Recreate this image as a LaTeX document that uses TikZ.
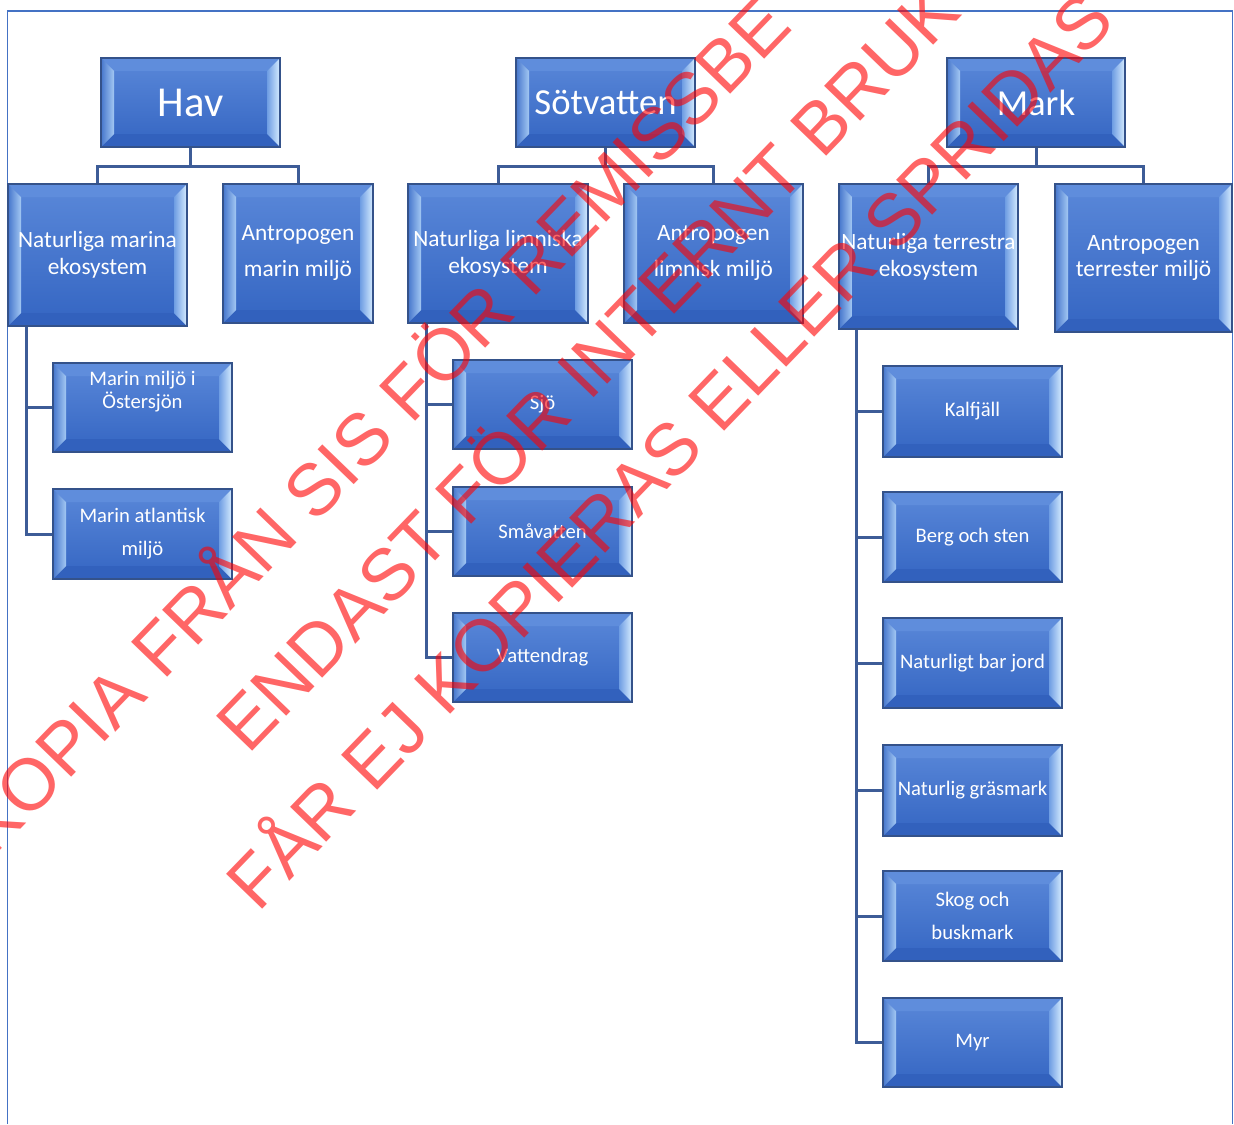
\documentclass[tikz,border=0pt]{standalone}
\usepackage{fontspec}
\newfontfamily\carl{Carlito}
\newfontfamily\wmf{Liberation Sans}
\usetikzlibrary{calc,backgrounds}
\definecolor{bdr}{HTML}{34528A}
\definecolor{bxtop}{HTML}{5A88D9}
\definecolor{bxbot}{HTML}{3465C2}
\definecolor{bvtop}{HTML}{5F8DDC}
\definecolor{bvbot}{HTML}{3261BD}
\definecolor{bvlo}{HTML}{4676CC}
\definecolor{bvli}{HTML}{A3C8F3}
\definecolor{bvri}{HTML}{6E9DE3}
\definecolor{bvro}{HTML}{D6ECFF}
\definecolor{conn}{HTML}{3D5C97}
\definecolor{frm}{HTML}{4472C4}
\tikzset{
  bx/.style={rectangle, draw=bdr, line width=0.9pt, inner sep=1pt, text=white, align=center,
    top color=bxtop, bottom color=bxbot,
    path picture={
      \coordinate (bNW) at (path picture bounding box.north west);
      \coordinate (bNE) at (path picture bounding box.north east);
      \coordinate (bSW) at (path picture bounding box.south west);
      \coordinate (bSE) at (path picture bounding box.south east);
      \fill[bvtop] (bNW) -- (bNE) -- ($(bNE)+(-9.75pt,-9.75pt)$) -- ($(bNW)+(9.75pt,-9.75pt)$) -- cycle;
      \fill[bvbot] (bSW) -- (bSE) -- ($(bSE)+(-9.75pt,9.75pt)$) -- ($(bSW)+(9.75pt,9.75pt)$) -- cycle;
      \shade[left color=bvlo, right color=bvli] (bNW) -- ($(bNW)+(9.75pt,-9.75pt)$) -- ($(bSW)+(9.75pt,9.75pt)$) -- (bSW) -- cycle;
      \shade[left color=bvri, right color=bvro] (bNE) -- ($(bNE)+(-9.75pt,-9.75pt)$) -- ($(bSE)+(-9.75pt,9.75pt)$) -- (bSE) -- cycle;
    }},
  txt/.style={text=white, align=center, inner sep=0pt},
  lhav/.style={font=\carl\fontsize{32}{38}\selectfont},
  lone/.style={font=\carl\fontsize{27.5}{33}\selectfont},
  ltwo/.style={font=\carl\fontsize{17.5}{20.25}\selectfont},
  ltwow/.style={font=\carl\fontsize{17.5}{27}\selectfont},
  ltwot/.style={font=\carl\fontsize{17.5}{19.5}\selectfont},
  lthree/.style={font=\carl\fontsize{15.5}{17.25}\selectfont},
  lthreew/.style={font=\carl\fontsize{15.5}{24.75}\selectfont},
  cn/.style={draw=conn, line width=2.25pt},
  wm/.style={font=\wmf\fontsize{54.75}{60}\selectfont, text=red, text opacity=0.6, inner sep=0pt, rotate=46},
}
\newcommand\mkbox[7][]{\node[bx,#1,minimum width={(#5-#3)*0.75pt},minimum height={(#6-#4)*0.75pt}] (#2) at ({(#3+#5)/2},{(#4+#6)/2}) {#7};}
\begin{document}
\begin{tikzpicture}[x=0.75pt,y=-0.75pt]
\useasboundingbox (0,0) rectangle (1234,1124);
\clip (0,0) rectangle (1234,1124);
% coordinates for buses
\coordinate (havbus) at (190.5,166);
\coordinate (sotbus) at (605.5,166);
\coordinate (markbus) at (1036,166);
\coordinate (nmv) at (26,326);
\coordinate (nlv) at (426,323);
\coordinate (ntv) at (856,329);
% boxes
\mkbox[lhav]{hav}{101}{58}{280}{147}{Hav}
\mkbox[lone]{sot}{516}{58}{695}{147}{Sötvatten}
\mkbox[lone]{mark}{947}{58}{1125}{147}{Mark}
\mkbox[ltwo]{nm}{8}{184}{187}{326}{Naturliga marina\\ekosystem}
\mkbox[ltwow]{am}{223}{184}{373}{323}{Antropogen\\marin miljö}
\mkbox[ltwo]{nl}{408}{184}{588}{323}{Naturliga limniska\\ekosystem}
\mkbox[ltwow]{al}{624}{184}{803}{323}{Antropogen\\limnisk miljö}
\mkbox[ltwo]{nt}{839}{184}{1018}{329}{Naturliga terrestra\\ekosystem}
\mkbox[ltwot]{at}{1055}{184}{1232}{332}{Antropogen\\terrester miljö}
\mkbox[lthree]{ost}{53}{363}{232}{452}{}
\node[txt,lthree] (osttext) at (142.5,392) {Marin miljö i\\Östersjön};
\mkbox[lthreew]{atl}{53}{489}{232}{579}{Marin atlantisk\\miljö}
\mkbox[lthree]{sjo}{453}{360}{632}{449}{Sjö}
\mkbox[lthree]{sma}{453}{487}{632}{576}{Småvatten}
\mkbox[lthree]{vat}{453}{613}{632}{702}{Vattendrag}
\mkbox[lthree]{kal}{883}{366}{1062}{457}{Kalfjäll}
\mkbox[lthree]{berg}{883}{492}{1062}{582}{Berg och sten}
\mkbox[lthree]{bar}{883}{618}{1062}{708}{Naturligt bar jord}
\mkbox[lthree]{gras}{883}{745}{1062}{836}{Naturlig gräsmark}
\mkbox[lthreew]{skog}{883}{871}{1062}{961}{Skog och\\buskmark}
\mkbox[lthree]{myr}{883}{998}{1062}{1087}{Myr}
% frame and connectors behind boxes
\begin{scope}[on background layer]
\fill[white] (0,0) rectangle (1234,1124);
\draw[frm, line width=1.1pt] (7.5,1124) -- (7.5,11) -- (1232.5,11) -- (1232.5,1124);
\draw[cn] (hav.south) -- (havbus) -| (nm.north);
\draw[cn] (havbus) -| (am.north);
\draw[cn] (sot.south) -- (sotbus) -| (nl.north);
\draw[cn] (sotbus) -| (al.north);
\draw[cn] (mark.south) -- (markbus) -| (nt.north);
\draw[cn] (markbus) -| (at.north);
\draw[cn] (nmv) |- (ost.west);
\draw[cn] (nmv) |- (atl.west);
\draw[cn] (nlv) |- (sjo.west);
\draw[cn] (nlv) |- (sma.west);
\draw[cn] (nlv) |- (vat.west);
\draw[cn] (ntv) |- (kal.west);
\draw[cn] (ntv) |- (berg.west);
\draw[cn] (ntv) |- (bar.west);
\draw[cn] (ntv) |- (gras.west);
\draw[cn] (ntv) |- (skog.west);
\draw[cn] (ntv) |- (myr.west);
\end{scope}
% watermark
\node[wm, anchor=base west] (w3) at (258,914) {FÅR EJ KOPIERAS ELLER SPRIDAS};
\node[wm, anchor=base west] (w2) at (248,756) {ENDAST FÖR INTERNT BRUK};
\node[wm, anchor=base west] (w1b) at (163,682) {FRÅN SIS FÖR REMISSBE};
\node[wm, anchor=base east] (w1a) at (149,697) {KOPIA};
\end{tikzpicture}
\end{document}
